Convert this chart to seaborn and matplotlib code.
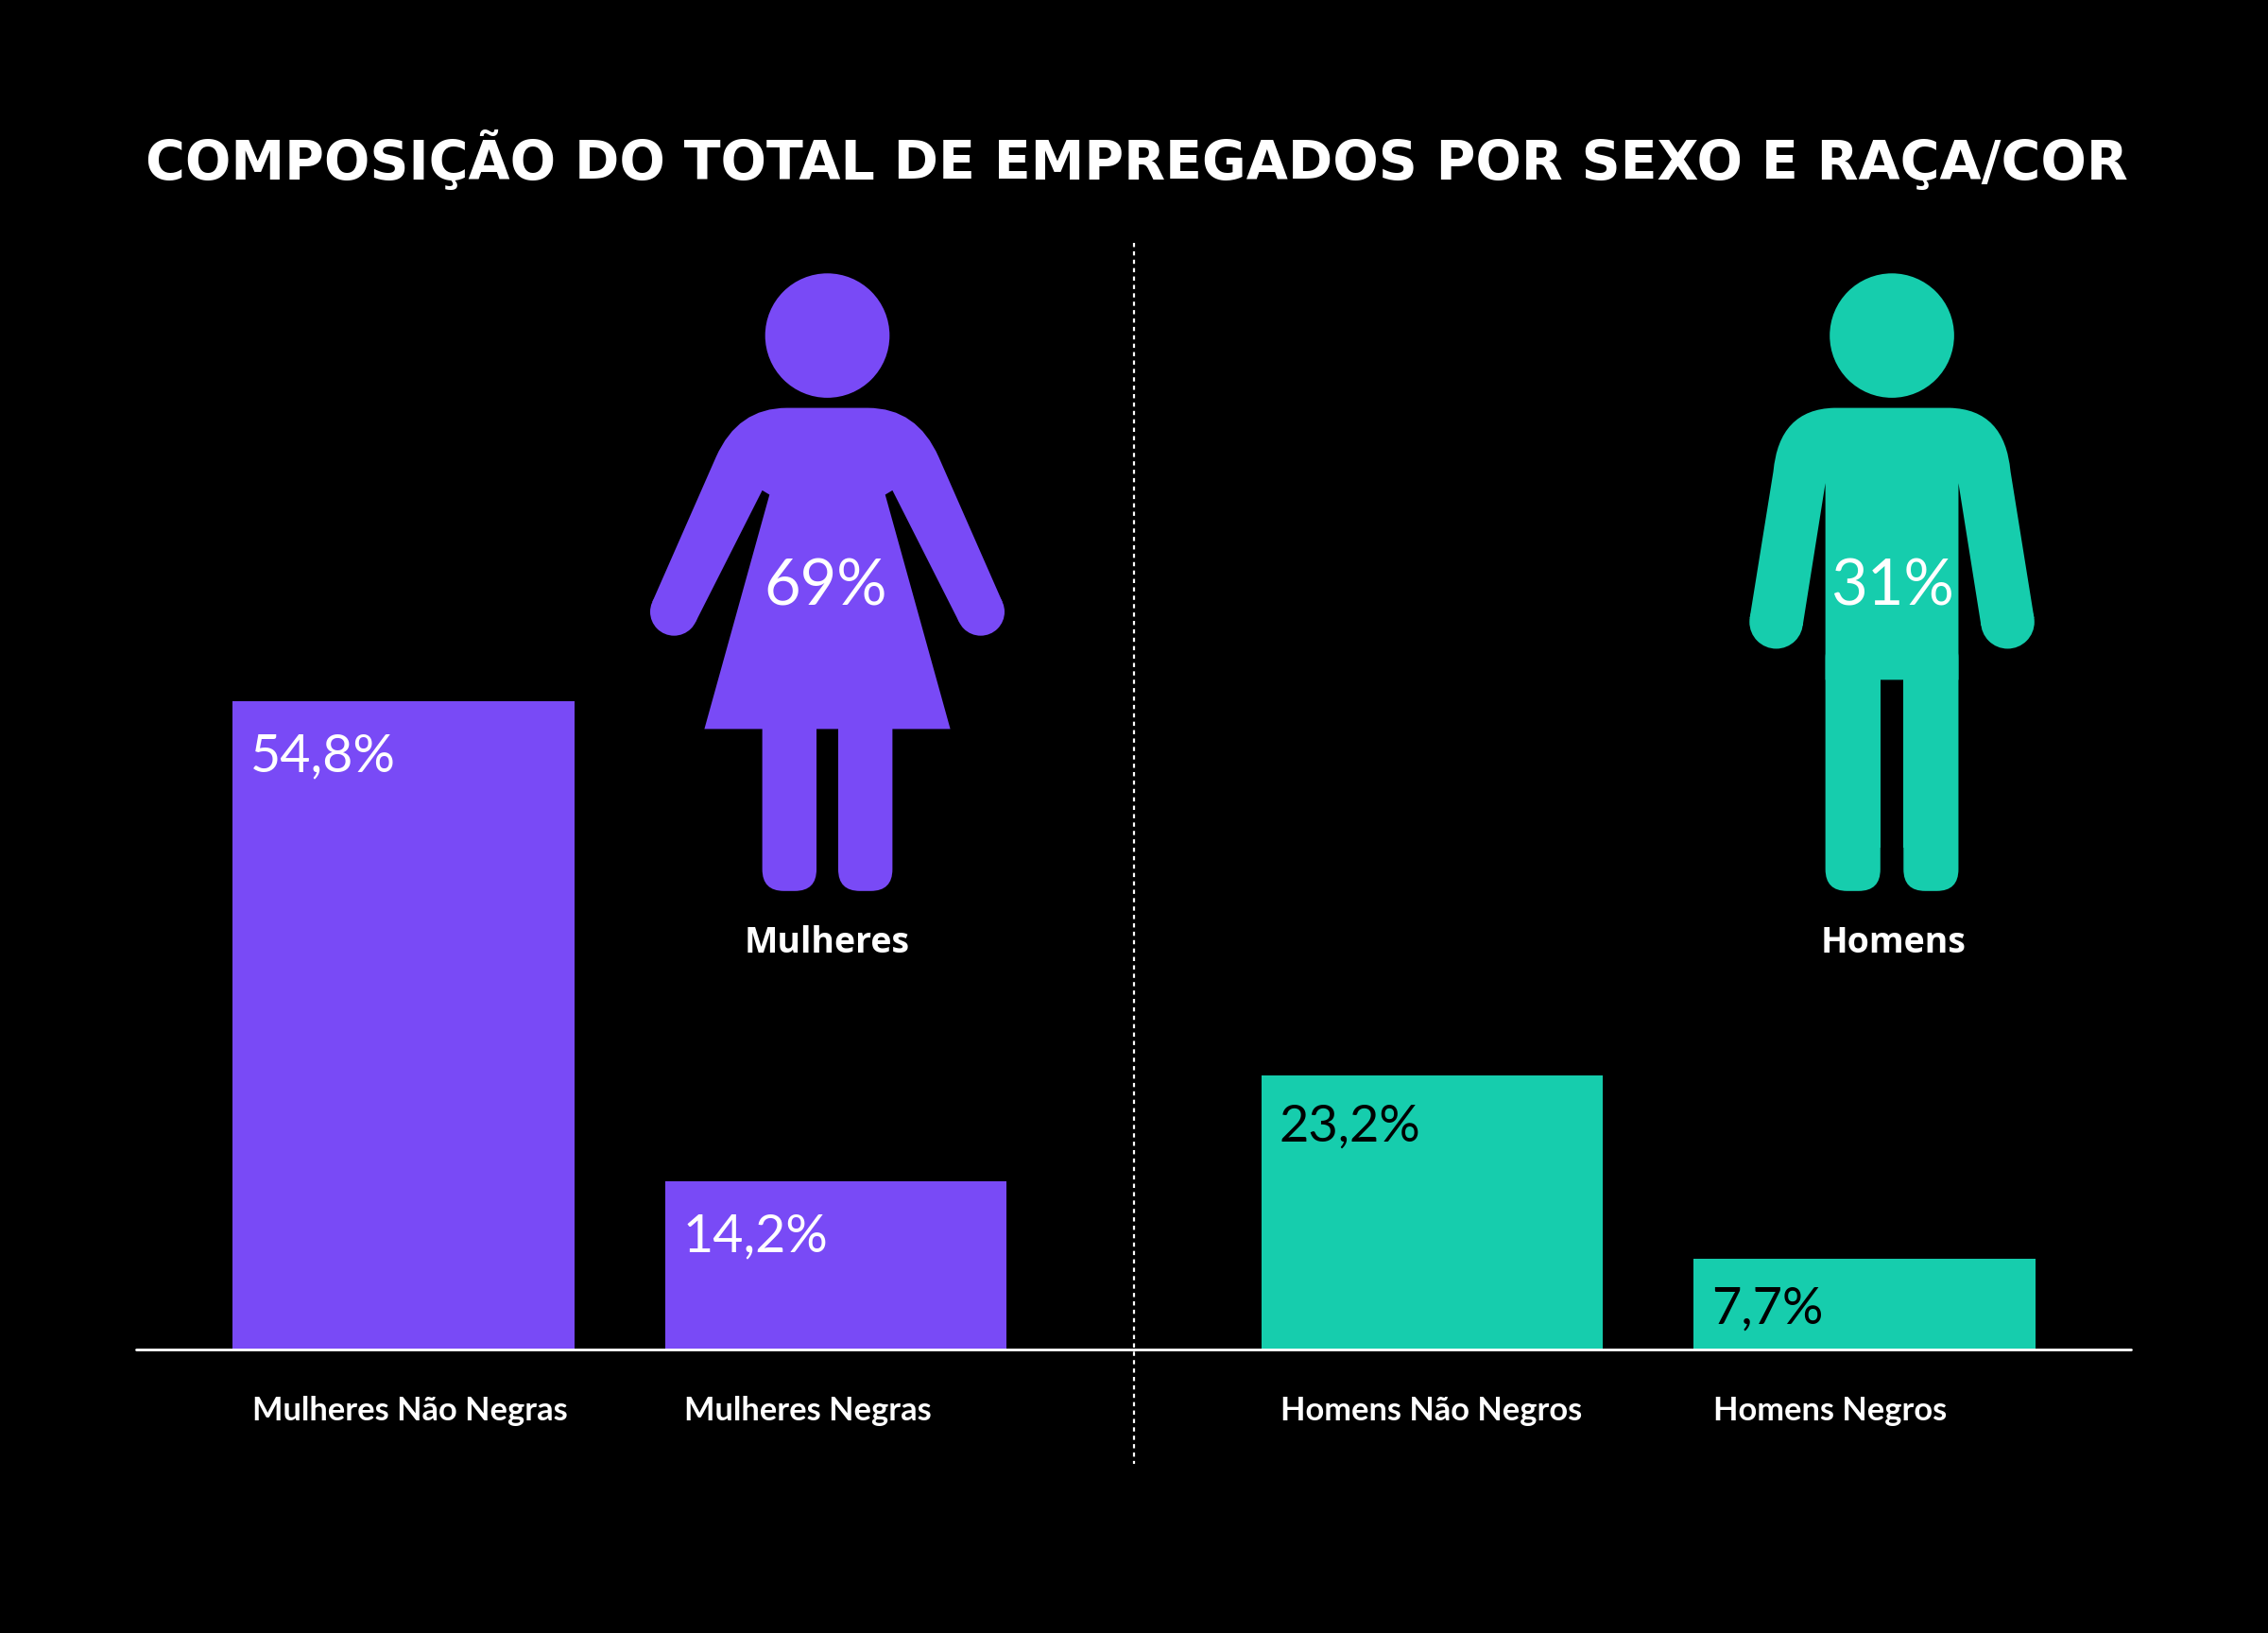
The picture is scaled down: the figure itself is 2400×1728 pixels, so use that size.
import numpy as np
import pandas as pd
import matplotlib
matplotlib.use("Agg")
import matplotlib.pyplot as plt
from matplotlib.patches import Circle, FancyBboxPatch, PathPatch
from matplotlib.path import Path
from matplotlib.lines import Line2D
import seaborn as sns

# ---------------- data ----------------
categorias_mulheres = ["Mulheres Não Negras", "Mulheres Negras"]
valores_mulheres = [54.8, 14.2]
categorias_homens = ["Homens Não Negros", "Homens Negros"]
valores_homens = [23.2, 7.7]
grupos = ["Mulheres", "Homens"]
totais = [69, 31]
titulo = "Composição do total de empregados por sexo e raça/cor"

# ---------------- style ----------------
ROXO = "#794AF6"
VERDE = "#16CDAD"
FUNDO = "#000000"

sns.set_style("dark", {"axes.facecolor": FUNDO, "figure.facecolor": FUNDO})
plt.rcParams["font.family"] = ["DejaVu Sans"]

W, H = 1568, 1129  # reference layout units
fig = plt.figure(figsize=(12, 8.64), dpi=200)
fig.patch.set_facecolor(FUNDO)

def fx(x):
    return x / W

def fy(y):
    return 1 - y / H

base_y = 933
top_y = 168
px_per_unit = 8.175
ymax = (base_y - top_y) / px_per_unit
spacing = 299.0
bar_w = 236 / spacing

def fmt(v):
    return f"{v:.1f}".replace(".", ",") + "%"

panels = [
    (categorias_mulheres, valores_mulheres, ROXO, "white", (94, 784), 279, 20, -26.5),
    (categorias_homens, valores_homens, VERDE, "black", (784, 1473), 990, 19.5, -25),
]

for cats, vals, cor, cor_txt, (xl, xr), c0, fsz, dy in panels:
    ax = fig.add_axes([fx(xl), fy(base_y), fx(xr) - fx(xl), (base_y - top_y) / H])
    df = pd.DataFrame({"categoria": cats, "valor": vals})
    sns.barplot(data=df, x="categoria", y="valor", order=cats, color=cor,
                saturation=1, width=bar_w, errorbar=None, ax=ax, zorder=2,
                linewidth=0, edgecolor="none")
    ax.set_xlim((xl - c0) / spacing, (xr - c0) / spacing)
    ax.set_ylim(0, ymax)
    ax.axis("off")
    ax.axhline(0, color="white", lw=1.0, zorder=3, clip_on=False)
    for p, v, cat in zip(ax.patches, vals, cats):
        x0 = p.get_x()
        h = p.get_height()
        ax.annotate(fmt(v), xy=(x0, h), xytext=(6.8, dy), textcoords="offset points",
                    ha="left", va="baseline", color=cor_txt, fontsize=fsz,
                    family=["Lato", "DejaVu Sans"], zorder=4)
        ax.annotate(cat, xy=(x0, 0), xytext=(7.3, -27), textcoords="offset points",
                    ha="left", va="baseline", color="white", fontsize=12.4,
                    fontweight="bold", family=["Lato", "DejaVu Sans"],
                    annotation_clip=False)

# dotted divider
fig.add_artist(Line2D([fx(784), fx(784)], [fy(168), fy(1012)], transform=fig.transFigure,
                      color="white", lw=0.8, ls=(0, (2, 2))))

# ---------------- icons overlay ----------------
axi = fig.add_axes([0, 0, 1, 1])
axi.set_xlim(0, W)
axi.set_ylim(H, 0)
axi.axis("off")

def tangents(top, hand, r):
    t = np.array(top, float)
    h = np.array(hand, float)
    d = (h - t) / np.linalg.norm(h - t)
    n = np.array([d[1], -d[0]])
    return tuple(h + n * r), tuple(h - n * r)

def rounded_leg(x0, x1, y0, y1, color, r=15):
    axi.add_patch(FancyBboxPatch((x0 + r, y0), (x1 - x0) - 2 * r, (y1 - y0) - r,
                                 boxstyle=f"round,pad={r},rounding_size={r}",
                                 fc=color, ec="none"))
    axi.add_patch(plt.Rectangle((x0, y0 - r), x1 - x0, (y1 - y0) - r, fc=color, ec="none"))

# woman
cx = 572
col = ROXO
axi.add_patch(Circle((cx, 232), 43, fc=col, ec="none"))
r_h = 16.5
hand_L = (466, 423)
hand_R = (2 * cx - 466, 423)
# left arm: tangents (side +n is "inner" for left arm since d points down-left)
a1, a2 = tangents((511, 326), hand_L, r_h)
b1, b2 = tangents((2 * cx - 511, 326), hand_R, r_h)
# sort tangent points: outer = farther from center
L_out, L_in = (a1, a2) if a1[0] < a2[0] else (a2, a1)
R_out, R_in = (b1, b2) if b1[0] > b2[0] else (b2, b1)
verts = [(544, 282), (600, 282),
         (634, 282), (649, 316),
         R_out, R_in,
         (617, 339), (612, 342), (657, 504), (487, 504), (532, 342), (527, 339),
         L_in, L_out,
         (495, 316),
         (510, 282), (544, 282), (544, 282)]
codes = [Path.MOVETO, Path.LINETO,
         Path.CURVE3, Path.CURVE3,
         Path.LINETO, Path.LINETO,
         Path.LINETO, Path.LINETO, Path.LINETO, Path.LINETO, Path.LINETO, Path.LINETO,
         Path.LINETO, Path.LINETO,
         Path.LINETO,
         Path.CURVE3, Path.CURVE3, Path.CLOSEPOLY]
axi.add_patch(PathPatch(Path(verts, codes), fc=col, ec="none", lw=0))
axi.add_patch(Circle(hand_L, r_h, fc=col, ec="none"))
axi.add_patch(Circle(hand_R, r_h, fc=col, ec="none"))
rounded_leg(527, 564.5, 495, 616, col)
rounded_leg(579.5, 617, 495, 616, col)

# man
cx = 1308
col = VERDE
axi.add_patch(Circle((cx, 232), 43, fc=col, ec="none"))
r_h = 18.5
hand_L = (1228, 430)
hand_R = (2 * cx - 1228, 430)
a1, a2 = tangents((1244, 318), hand_L, r_h)
b1, b2 = tangents((2 * cx - 1244, 318), hand_R, r_h)
L_out, L_in = (a1, a2) if a1[0] < a2[0] else (a2, a1)
R_out, R_in = (b1, b2) if b1[0] > b2[0] else (b2, b1)
verts = [(1268, 282), (1348, 282),
         (1386, 283), (1390, 326),
         R_out, R_in,
         (1354, 334), (1354, 470), (1262, 470), (1262, 334),
         L_in, L_out,
         (1226, 326),
         (1230, 283), (1268, 282), (1268, 282)]
codes = [Path.MOVETO, Path.LINETO,
         Path.CURVE3, Path.CURVE3,
         Path.LINETO, Path.LINETO,
         Path.LINETO, Path.LINETO, Path.LINETO, Path.LINETO,
         Path.LINETO, Path.LINETO,
         Path.LINETO,
         Path.CURVE3, Path.CURVE3, Path.CLOSEPOLY]
axi.add_patch(PathPatch(Path(verts, codes), fc=col, ec="none", lw=0))
axi.add_patch(Circle(hand_L, r_h, fc=col, ec="none"))
axi.add_patch(Circle(hand_R, r_h, fc=col, ec="none"))
rounded_leg(1262, 1300, 455, 616, col)
rounded_leg(1316, 1354, 455, 616, col)

# icon texts
for g, t, x in zip(grupos, totais, [571, 1308]):
    axi.text(x, 406, f"{t}%", ha="center", va="center", color="white", fontsize=24,
             family=["Lato", "DejaVu Sans"], fontweight="normal")
    axi.text(x + 1, 652, g, ha="center", va="center", color="white", fontsize=13.5,
             family=["Open Sans", "DejaVu Sans"], fontweight="bold")

# title
axi.text(786, 111, titulo.upper(), ha="center", va="center", color="white",
         fontsize=20.5, fontweight="bold", family=["DejaVu Sans"])

fig.savefig("out.png", dpi=200, facecolor=FUNDO)
